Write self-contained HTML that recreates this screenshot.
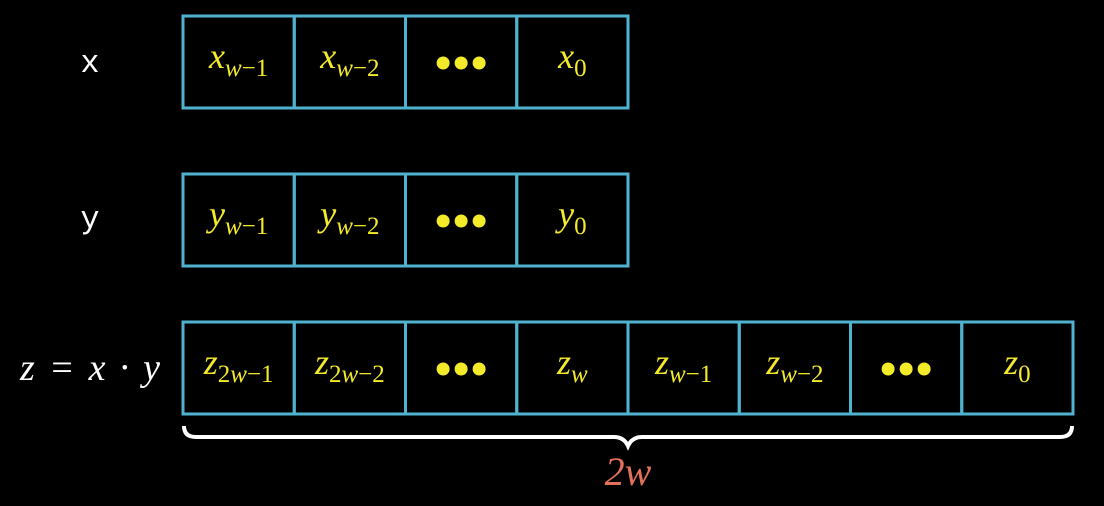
<!DOCTYPE html>
<html><head><meta charset="utf-8"><style>
html,body{margin:0;padding:0;background:#000;width:1104px;height:506px;overflow:hidden}
svg{display:block}
.t{font-family:"Liberation Serif",serif;font-style:italic;fill:#f3ea2a}
.l{fill:#fff}
.mono{font-family:"Liberation Mono","DejaVu Sans Mono",monospace}
</style></head><body>
<svg width="1104" height="506" viewBox="0 0 1104 506">
<g id="rows"></g>
<text x="90" y="72" class="l mono" font-size="32" text-anchor="middle">x</text>
<text x="90" y="228" class="l mono" font-size="32" text-anchor="middle">y</text>
<text x="90" y="380" class="l" font-family="Liberation Serif,serif" font-style="italic" font-size="38" text-anchor="middle" textLength="140">z = x · y</text>
<path d="M184,426 Q184,437 196,437 L614,437 Q624,437 628,446 Q632,437 642,437 L1060,437 Q1072,437 1072,426" fill="none" stroke="#fff" stroke-width="4"/>
<text x="628" y="485" font-family="Liberation Serif,serif" font-style="italic" font-size="40" fill="#e3705b" text-anchor="middle">2w</text>
</svg>
<script>
const rowNames=['x','y','z'];
const rowTops=[16,174,322];
const cells=[
 [['x','w','−1'],['x','w','−2'],null,['x','','0']],
 [['y','w','−1'],['y','w','−2'],null,['y','','0']],
 [['z','2w','−1'],['z','2w','−2'],null,['z','w',''],['z','w','−1'],['z','w','−2'],null,['z','','0']]
];
const NS='http://www.w3.org/2000/svg';
const g=document.getElementById('rows');
const x0=183,cw=111.25,h=92;
function mk(t,a){const e=document.createElementNS(NS,t);for(const k in a)e.setAttribute(k,a[k]);return e;}
cells.forEach((row,r)=>{
 const top=rowTops[r];
 const grp=mk('g',{});
 
 
 g.appendChild(grp);
 row.forEach((c,i)=>{
  const x=x0+i*cw;
  const rect=mk('rect',{x:x,y:top,width:cw,height:h,fill:'none',stroke:'#4fb3d0','stroke-width':3});
  
  
  grp.appendChild(rect);
  const cx=x+cw/2,cy=top+h/2;
  if(c===null){
   for(let k=-1;k<=1;k++){
    const d=mk('circle',{cx:cx+k*18,cy:cy+1,r:6.5,fill:'#f3ea2a'});
    
    
    grp.appendChild(d);
   }
  } else {
   const t=mk('text',{x:cx,y:cy+6,'class':'t','font-size':36,'text-anchor':'middle'});
   
   
   const a=mk('tspan',{});a.textContent=c[0];
   t.appendChild(a);
   // subscript: digits upright, w italic
   const sub=c[1]+c[2];
   let first=true;
   for(const ch of sub){
    const attrs={'font-size':25,'font-style':ch==='w'?'italic':'normal'};
    if(first){attrs.dy=8;first=false;}
    const s=mk('tspan',attrs);s.textContent=ch;t.appendChild(s);
   }
   grp.appendChild(t);
  }
 });
});
</script>
</body></html>
